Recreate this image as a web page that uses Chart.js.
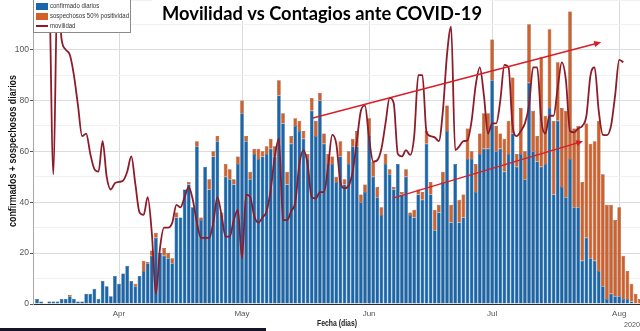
<!DOCTYPE html>
<html>
<head>
<meta charset="utf-8">
<script src="https://cdn.jsdelivr.net/npm/chart.js@4.4.1/dist/chart.umd.min.js"></script>
<style>
  html, body { margin: 0; padding: 0; background: #fff; overflow: hidden; }
  #wrap { position: relative; width: 640px; height: 331px; }
  #barra { position: absolute; left: 0; top: 328px; width: 266px; height: 3px; background: #15152a; }
</style>
</head>
<body>
<div id="wrap">
  <canvas id="myChart" width="640" height="331"></canvas>
  <div id="barra"></div>
</div>
<script>
// un valor por dia, el indice 0 es el 12 de marzo de 2020
const confirmados = [
  2, 1, 0, 1, 1, 1, 2, 2, 3, 2,
  1, 1, 4, 4, 6, 2, 9, 7, 3, 11,
  8, 12, 15, 9, 7, 11, 13, 16, 19, 26,
  20, 19, 18, 16, 34, 34, 45, 47, 38, 62,
  33, 54, 45, 58, 64, 35, 50, 49, 47, 55,
  75, 64, 49, 59, 57, 58, 59, 61, 58, 82,
  71, 47, 63, 70, 68, 65, 57, 76, 66, 80,
  63, 55, 55, 48, 58, 47, 55, 62, 62, 40,
  44, 66, 50, 42, 35, 55, 51, 45, 55, 43,
  50, 35, 34, 43, 41, 63, 43, 29, 36, 48,
  68, 32, 55, 32, 34, 57, 57, 44, 59, 61,
  61, 88, 60, 61, 52, 59, 67, 54, 59, 49,
  87, 60, 56, 54, 55, 77, 43, 72, 46, 42,
  57, 38, 38, 17, 26, 18, 17, 13, 7, 2,
  4, 3, 3, 2, 2, 1, 0, 0
]
const sospechosos = [
  0, 0, 0, 0, 0, 0, 0, 0, 0.5, 0,
  0, 0, 0, 0, 0, 0, 0, 0, 0, 0,
  0, 0, 0, 0, 1, 0, 4, 0.5, 2, 2,
  0, 3, 2, 2, 2, 0, 0, 1, 0, 2,
  1, 0, 4, 2, 2, 1, 5, 4, 2, 3,
  5, 2, 3, 2, 4, 2, 3, 4, 4, 6,
  4, 5, 3, 3, 4, 3, 2, 5, 6, 3,
  4, 4, 3, 2, 6, 2, 5, 3, 6, 3,
  3, 7, 6, 4, 3, 4, 2, 1, 0, 1,
  3, 1, 3, 2, 3, 5, 5, 8, 3, 4,
  10, 7, 0, 9, 9, 12, 3, 11, 8, 14,
  14, 16, 10, 6, 13, 13, 22, 5, 18, 11,
  23, 16, 10, 43, 19, 31, 29, 23, 31, 34,
  58, 31, 32, 31, 45, 45, 47, 59, 44, 37,
  35, 30, 35, 17, 11, 7, 4, 2
]
const movilidad = [
  null, null, null, 130, 51, 125, 104, 100, 98, 90,
  78, 66, 67, 59, 53, 52, 64, 50, 45, 47.5,
  48, 48.5, 52, 58, 47, 36, 35, 42, 28, 4,
  22, 30, 30, 32, 39, 38, 42, 46, 41, 32,
  26, 26, 26, 32, 42, 35, 26.5, 26.5, 33, 37,
  18, 43, 42, 34.5, 32, 34, 36.5, 45, 58, 65,
  33, 33, 36.5, 40, 55, 60.5, 55, 42, 41.5, 44,
  44, 54, 66.5, 63, 48, 45.5, 46.5, 52, 64, 76,
  78, 65, 56, 56.5, 61, 71, 81, 79, 59, 58,
  60.5, 58.6, 66, 90, 90, 67.5, 66, 65.5, 64, 76,
  98, 109, 60.5, 62, 64, 64.4, 72, 86, 93, 82,
  67, 71, 71, 80, 94, 93, 70, 66, 68, 71,
  78, 93, 93, 72, 67, 74, 74, 85, 95, 88,
  68, 67.5, 69, 70, 74, 90, 93, 76, 66.5, 66.4,
  70, 82, 96, 95
]
const meses = ['Apr', 'May', 'Jun', 'Jul', 'Aug']
const diaMes = [20, 50, 81, 111, 142] // indice del dia 1 de cada mes
const yEtiquetas = [0, 20, 40, 60, 80, 100]

// flechas de tendencia, en coordenadas de datos (dia, casos)
const flechas = [
  { desde: [67.3, 73.1], hasta: [137.6, 102.9] },
  { desde: [86.8, 41.6], hasta: [133.2, 64] }
]

const AZUL = '#1667ad', NARANJA = '#d2602a', GRANATE = '#8e1b2a'

function textoAjustado(ctx, txt, x, y, ancho, align) {
  const w = ctx.measureText(txt).width
  ctx.save()
  ctx.translate(x, y)
  ctx.scale(ancho / w, 1)
  ctx.textAlign = align || 'center'
  ctx.fillText(txt, 0, 0)
  ctx.restore()
}

const extras = {
  id: 'extras',
  afterDatasetsDraw(chart) {
    const { ctx, scales: { x, y } } = chart
    ctx.save()
    ctx.strokeStyle = '#d81e26'
    ctx.fillStyle = '#d81e26'
    ctx.lineWidth = 1.4
    flechas.forEach(f => {
      const x0 = x.getPixelForValue(f.desde[0]), y0 = y.getPixelForValue(f.desde[1])
      const x1 = x.getPixelForValue(f.hasta[0]), y1 = y.getPixelForValue(f.hasta[1])
      const a = Math.atan2(y1 - y0, x1 - x0)
      ctx.beginPath()
      ctx.moveTo(x0, y0)
      ctx.lineTo(x1 - 5 * Math.cos(a), y1 - 5 * Math.sin(a))
      ctx.stroke()
      ctx.beginPath()
      ctx.moveTo(x1, y1)
      ctx.lineTo(x1 - 7 * Math.cos(a) + 3 * Math.sin(a), y1 - 7 * Math.sin(a) - 3 * Math.cos(a))
      ctx.lineTo(x1 - 7 * Math.cos(a) - 3 * Math.sin(a), y1 - 7 * Math.sin(a) + 3 * Math.cos(a))
      ctx.closePath()
      ctx.fill()
    })
    ctx.restore()
  },
  afterDraw(chart) {
    const ctx = chart.ctx
    ctx.save()
    // titulo sobre fondo blanco
    ctx.fillStyle = '#fff'
    ctx.fillRect(152, 0, 338, 21)
    ctx.fillStyle = '#000'
    ctx.font = 'bold 18px Lato'
    ctx.textBaseline = 'alphabetic'
    textoAjustado(ctx, 'Movilidad vs Contagios ante COVID-19', 322, 19.5, 320)

    // leyenda
    ctx.fillStyle = '#fff'
    ctx.fillRect(33.5, -0.5, 97, 33)
    ctx.strokeStyle = '#8a8a8a'
    ctx.lineWidth = 1
    ctx.strokeRect(33.5, -0.5, 97, 33)
    const ds = chart.data.datasets
    ctx.fillStyle = ds[0].backgroundColor
    ctx.fillRect(36, 3, 12, 7)
    ctx.fillStyle = ds[1].backgroundColor
    ctx.fillRect(36, 13, 12, 7)
    ctx.strokeStyle = ds[2].borderColor
    ctx.lineWidth = 2
    ctx.beginPath()
    ctx.moveTo(36, 26)
    ctx.lineTo(48, 26)
    ctx.stroke()
    ctx.fillStyle = '#333'
    ctx.font = '7px "Liberation Sans", Arial'
    ctx.textBaseline = 'middle'
    const k = 79 / ctx.measureText(ds[1].label).width
    ;[6.5, 16.5, 26].forEach((yy, i) => {
      const w = ctx.measureText(ds[i].label).width
      textoAjustado(ctx, ds[i].label, 50, yy, w * k, 'left')
    })

    // titulos de ejes
    ctx.fillStyle = '#111'
    ctx.font = 'bold 10px "Liberation Sans", Arial'
    ctx.save()
    ctx.translate(13, 151)
    ctx.rotate(-Math.PI / 2)
    textoAjustado(ctx, 'confirmados + sospechosos diarios', 0, 0, 152)
    ctx.restore()
    ctx.fillStyle = '#222'
    ctx.font = 'bold 9px "Liberation Sans", Arial'
    textoAjustado(ctx, 'Fecha (dias)', 337, 324, 40)
    ctx.fillStyle = '#555'
    ctx.font = '8px "Liberation Sans", Arial'
    textoAjustado(ctx, '2020', 632, 325, 16)
    ctx.restore()
  }
}

const ctx = document.getElementById('myChart').getContext('2d')
const myChart = new Chart(ctx, {
  type: 'bar',
  data: {
    datasets: [
      {
        label: 'confirmado diarios',
        data: confirmados.map((v, i) => ({ x: i, y: v })),
        backgroundColor: AZUL,
        borderColor: '#23405f',
        borderWidth: 0.5,
        stack: 'casos',
        order: 1,
        barPercentage: 0.9,
        categoryPercentage: 1,
      },
      {
        label: 'sospechosos 50% positividad',
        data: sospechosos.map((v, i) => ({ x: i, y: v })),
        backgroundColor: NARANJA,
        borderColor: '#6b3a22',
        borderWidth: 0.5,
        stack: 'casos',
        order: 1,
        barPercentage: 0.9,
        categoryPercentage: 1,
      },
      {
        type: 'line',
        label: 'movilidad',
        data: movilidad.map((v, i) => ({ x: i, y: v })),
        borderColor: GRANATE,
        borderWidth: 1.8,
        pointRadius: 0,
        cubicInterpolationMode: 'monotone',
        stack: 'mov',
        order: 0,
      },
    ],
  },
  options: {
    responsive: false,
    animation: false,
    devicePixelRatio: 1,
    layout: { padding: 0 },
    plugins: {
      legend: { display: false },
      title: { display: false },
      tooltip: { enabled: false },
    },
    scales: {
      x: {
        type: 'linear',
        min: -0.976,
        max: 147.07,
        offset: false,
        grid: { offset: false, color: '#dadada', drawTicks: false },
        border: { color: '#2b2b2b', width: 1 },
        afterBuildTicks: (s) => { s.ticks = diaMes.map((v) => ({ value: v })) },
        afterFit: (s) => { s.height = 27; s.paddingLeft = 0; s.paddingRight = 0 },
        ticks: {
          autoSkip: false,
          maxRotation: 0,
          padding: 5,
          color: '#555',
          font: { family: '"Liberation Sans", Arial', size: 8 },
          callback: (v) => meses[diaMes.indexOf(v)],
        },
      },
      y: {
        stacked: true,
        min: 0,
        max: 119.5,
        grid: {
          color: (c) => (c.tick && c.tick.value % 20 === 0 ? '#dcdcdc' : '#f1f1f1'),
          tickColor: (c) => (c.tick && yEtiquetas.includes(c.tick.value) ? '#555' : 'rgba(0,0,0,0)'),
          tickLength: 3,
        },
        border: { color: '#a8a8a8' },
        afterFit: (s) => { s.width = 33; s.paddingTop = 0; s.paddingBottom = 0 },
        ticks: {
          stepSize: 5,
          padding: 1,
          color: '#555',
          font: { family: '"Liberation Sans", Arial', size: 8.5 },
          callback: (v) => (yEtiquetas.includes(v) ? v : ''),
        },
      },
    },
  },
  plugins: [extras],
})
</script>
</body>
</html>
